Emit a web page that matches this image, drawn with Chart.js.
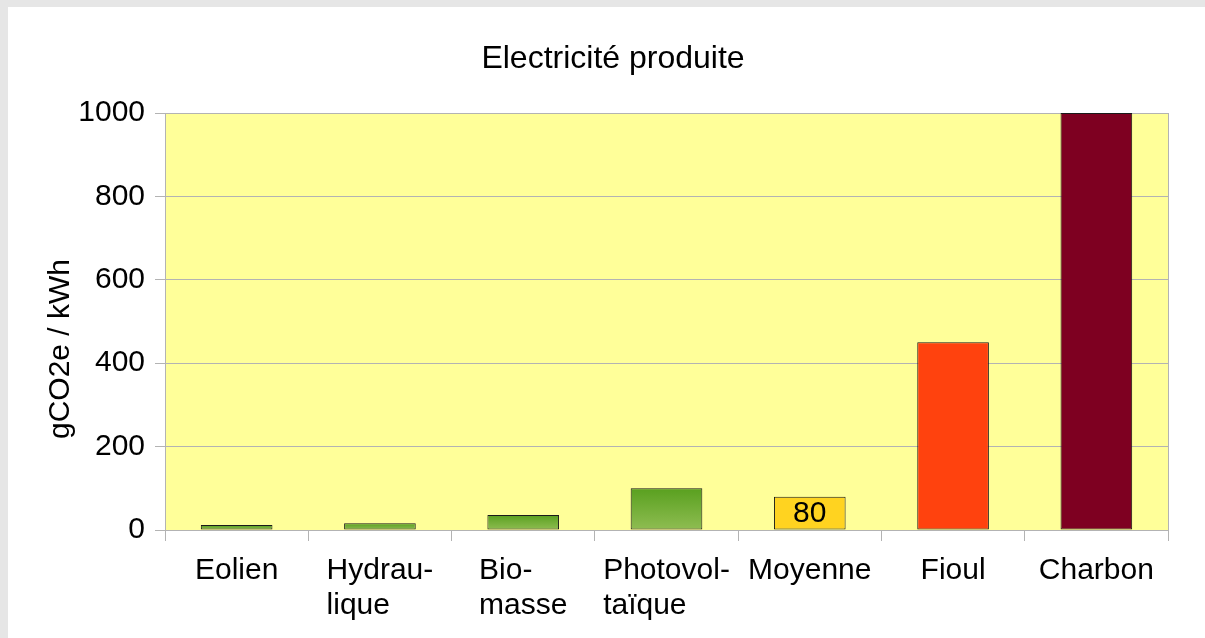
<!DOCTYPE html>
<html>
<head>
<meta charset="utf-8">
<script src="https://cdn.jsdelivr.net/npm/chart.js@4"></script>
<style>
  html, body { margin: 0; padding: 0; background: #e6e6e6; }
  #cadre { position: absolute; left: 8px; top: 7px; width: 1197px; height: 631px; background: #ffffff; }
</style>
</head>
<body>
<div id="cadre"><canvas id="graphique" width="1197" height="631"></canvas></div>
<script>
// Données
const categories = ['Eolien', ['Hydrau-', 'lique'], ['Bio-', 'masse'], ['Photovol-', 'taïque'], 'Moyenne', 'Fioul', 'Charbon'];
const valeurs = [12, 16, 36, 100, 80, 450, 1000];
const graduations = [0, 200, 400, 600, 800, 1000];
const barresEtiquetees = [4]; // seule la moyenne porte sa valeur

const titre = 'Electricité produite';
const titreAxeY = 'gCO2e / kWh';

const police = '"Liberation Sans", Arial, sans-serif';

// Couleurs des barres (vert dégradé pour les renouvelables)
function couleurBarre(ctx) {
    const i = ctx.dataIndex;
    if (i === 4) return '#ffd320';
    if (i === 5) return '#ff420e';
    if (i === 6) return '#7e0021';
    const chart = ctx.chart;
    if (!chart.chartArea) return '#6fab30';
    const y = chart.scales.y;
    const haut = y.getPixelForValue(valeurs[i]);
    const bas = y.getPixelForValue(0);
    const g = chart.ctx.createLinearGradient(0, haut, 0, bas);
    g.addColorStop(0, '#59a01f');
    g.addColorStop(1, '#8fbd52');
    return g;
}

// Fond jaune de la zone de tracé + bord droit
const fondZone = {
    id: 'fondZone',
    beforeDraw(chart) {
        const { ctx, chartArea: a } = chart;
        ctx.save();
        ctx.fillStyle = '#ffff99';
        ctx.fillRect(a.left, a.top, a.right - a.left, a.bottom - a.top);
        ctx.strokeStyle = '#b3b3b3';
        ctx.lineWidth = 1;
        ctx.beginPath();
        ctx.moveTo(Math.round(a.right) + 0.5, a.top);
        ctx.lineTo(Math.round(a.right) + 0.5, a.bottom);
        ctx.stroke();
        ctx.restore();
    }
};

// Textes : titre, titre de l'axe Y, libellés des catégories, valeur de la moyenne
const textes = {
    id: 'textes',
    afterDraw(chart) {
        const { ctx } = chart;
        const x = chart.scales.x;
        ctx.save();
        ctx.fillStyle = '#000';

        // titre
        ctx.font = '32px ' + police;
        ctx.textAlign = 'center';
        ctx.textBaseline = 'alphabetic';
        ctx.fillText(titre, 605, 61);

        // titre axe Y
        ctx.font = '30px ' + police;
        ctx.save();
        ctx.translate(61, 342);
        ctx.rotate(-Math.PI / 2);
        ctx.textAlign = 'center';
        ctx.fillText(titreAxeY, 0, 0);
        ctx.restore();

        // libellés des catégories, lignes alignées à gauche
        ctx.textAlign = 'left';
        categories.forEach((lib, i) => {
            const lignes = Array.isArray(lib) ? lib : [lib];
            const larg = Math.max(...lignes.map(l => ctx.measureText(l).width));
            const px = x.getPixelForTick(i) - larg / 2;
            lignes.forEach((l, k) => ctx.fillText(l, px, 572 + k * 35));
        });

        // valeur dans la barre
        const meta = chart.getDatasetMeta(0);
        ctx.textAlign = 'center';
        ctx.textBaseline = 'middle';
        barresEtiquetees.forEach(i => {
            const b = meta.data[i];
            ctx.fillText(String(valeurs[i]), b.x, (b.y + b.base) / 2 + 1);
        });
        ctx.restore();
    }
};

new Chart(document.getElementById('graphique'), {
    type: 'bar',
    data: {
        labels: categories,
        datasets: [{
            data: valeurs,
            backgroundColor: couleurBarre,
            borderColor: '#1a1a1a',
            borderWidth: 1,
            borderSkipped: false,
            categoryPercentage: 1,
            barPercentage: 0.5
        }]
    },
    options: {
        responsive: false,
        animation: false,
        layout: { padding: { top: 106, right: 37, left: 0, bottom: 0 } },
        plugins: {
            legend: { display: false },
            tooltip: { enabled: false }
        },
        scales: {
            x: {
                afterFit(s) { s.height = 108; },
                ticks: { display: false },
                grid: { offset: true, drawOnChartArea: false, color: '#b3b3b3', tickLength: 11 },
                border: { color: '#b3b3b3' }
            },
            y: {
                min: 0,
                max: 1000,
                afterFit(s) { s.width = 157; },
                afterBuildTicks(s) { s.ticks = graduations.map(v => ({ value: v })); },
                ticks: {
                    color: '#000',
                    padding: 10,
                    font: { family: police, size: 30 },
                    callback: v => String(v)
                },
                grid: { color: '#b3b3b3', tickLength: 10 },
                border: { color: '#b3b3b3' }
            }
        }
    },
    plugins: [fondZone, textes]
});
</script>
</body>
</html>
